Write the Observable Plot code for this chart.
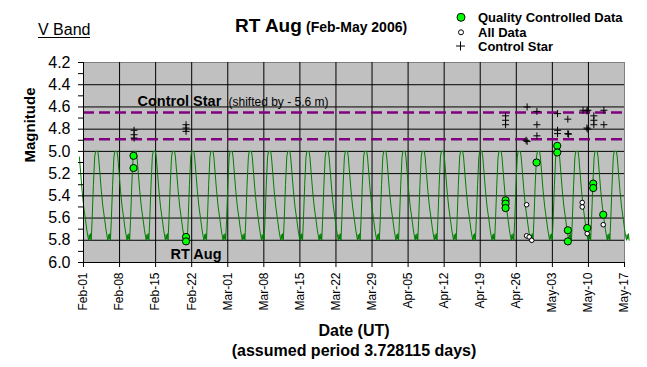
<!DOCTYPE html>
<html><head><meta charset="utf-8">
<script src="https://cdn.jsdelivr.net/npm/d3@7"></script>
<script src="https://cdn.jsdelivr.net/npm/@observablehq/plot@0.6"></script>
<style>
html,body{margin:0;padding:0;background:#fff;}
#wrap{position:relative;width:647px;height:367px;font-family:'Liberation Sans',Arial,sans-serif;}
#wrap > svg, #wrap figure{display:block;margin:0;}
#overlay{position:absolute;left:0;top:0;pointer-events:none;}
</style></head><body><div id="wrap"></div>
<script>
// ---- axis ticks ----
const xTicks = ["2006-02-01","2006-02-08","2006-02-15","2006-02-22","2006-03-01","2006-03-08","2006-03-15","2006-03-22","2006-03-29","2006-04-05","2006-04-12","2006-04-19","2006-04-26","2006-05-03","2006-05-10","2006-05-17"];
const yTicks = [4.2,4.4,4.6,4.8,5.0,5.2,5.4,5.6,5.8,6.0];
const yMinorTicks = [4.3,4.5,4.7,4.9,5.1,5.3,5.5,5.7,5.9];
// control-star band (dashed lines)
const controlBand = [4.65, 4.89];
// ---- model light curve (one cycle, repeated with the stated period) ----
const periodDays = 3.728115;
const curveEpoch = "2006-02-03T08:24Z";
const curveStart = "2006-01-31T02:24Z";
const curveEnd = "2006-05-17T21:36Z";
const cycleDays = [0, 0.42, 0.58, 0.84, 1.10, 1.42, 1.75, 2.00, 2.25, 2.38, 2.50, 2.62, 2.75, 2.88, 3.05, 3.30, 3.55];
const cycleMags = [5.00, 5.00, 5.05, 5.20, 5.35, 5.50, 5.61, 5.70, 5.77, 5.80, 5.75, 5.79, 5.74, 5.80, 5.62, 5.30, 5.05];
// ---- quality controlled data ----
const qcDates = ["2006-02-10T17:00Z","2006-02-10T17:00Z","2006-02-20T21:40Z","2006-02-20T21:40Z","2006-04-23T22:05Z","2006-04-23T22:05Z","2006-04-23T22:05Z","2006-04-29T22:20Z","2006-05-03T22:50Z","2006-05-03T22:50Z","2006-05-06T00:15Z","2006-05-06T00:15Z","2006-05-09T18:30Z","2006-05-10T22:20Z","2006-05-10T22:20Z","2006-05-12T20:55Z"];
const qcMags = [5.04,5.15,5.77,5.81,5.44,5.47,5.51,5.10,4.95,5.01,5.71,5.81,5.69,5.29,5.33,5.57];
// ---- all data ----
const allDates = ["2006-04-28T00:00Z","2006-04-28T00:00Z","2006-04-28T12:00Z","2006-04-29T00:00Z","2006-05-08T19:10Z","2006-05-08T19:10Z","2006-05-09T18:30Z","2006-05-12T20:55Z"];
const allMags = [5.48,5.76,5.77,5.80,5.46,5.50,5.74,5.66];
// ---- control star ----
const ctrlDates = ["2006-02-10T19:40Z","2006-02-10T19:40Z","2006-02-10T19:40Z","2006-02-20T21:40Z","2006-02-20T21:40Z","2006-02-20T21:40Z","2006-04-23T22:05Z","2006-04-23T22:05Z","2006-04-23T22:05Z","2006-04-28T02:25Z","2006-04-28T02:25Z","2006-04-27T21:35Z","2006-04-30T00:00Z","2006-04-30T00:00Z","2006-04-30T00:00Z","2006-05-04T00:00Z","2006-05-04T00:00Z","2006-05-04T00:00Z","2006-05-06T00:00Z","2006-05-06T00:00Z","2006-05-06T03:35Z","2006-05-08T22:50Z","2006-05-09T16:50Z","2006-05-09T16:50Z","2006-05-09T21:35Z","2006-05-09T21:35Z","2006-05-11T01:10Z","2006-05-11T01:10Z","2006-05-11T01:10Z","2006-05-13T00:00Z","2006-05-13T00:00Z"];
const ctrlMags = [4.81,4.85,4.88,4.76,4.79,4.82,4.68,4.72,4.76,4.60,4.91,4.90,4.64,4.76,4.86,4.66,4.81,4.84,4.71,4.84,4.845,4.63,4.635,4.79,4.63,4.80,4.68,4.72,4.76,4.63,4.76];

const DAY = 864e5;
const P = periodDays * DAY;
const e0 = +new Date(curveEpoch), cs = +new Date(curveStart), ce = +new Date(curveEnd);
const curve = [];
for (let k = Math.floor((cs - e0) / P) - 1; e0 + k * P <= ce; k++) {
  cycleDays.forEach((t, i) => {
    const d = e0 + k * P + t * DAY;
    if (d >= cs && d <= ce) curve.push({date: new Date(d), mag: cycleMags[i]});
  });
}
const pts = (ds, ms) => ds.map((d, i) => ({date: new Date(d), mag: ms[i]}));
const qc = pts(qcDates, qcMags), all = pts(allDates, allMags), ctrl = pts(ctrlDates, ctrlMags);
const xT = xTicks.map(d => new Date(d + "T00:00Z"));
const plusSym = {draw(ctx) { const r = 3.5; ctx.moveTo(-r, 0); ctx.lineTo(r, 0); ctx.moveTo(0, -r); ctx.lineTo(0, r); }};
const F = "'Liberation Sans', Arial, sans-serif";

const chart = Plot.plot({
  width: 647, height: 367,
  marginLeft: 83, marginRight: 23, marginTop: 62, marginBottom: 105,
  style: {fontFamily: F, fontSize: "12px", background: "transparent", color: "black", overflow: "visible"},
  x: {type: "utc", domain: [xT[0], xT[xT.length - 1]]},
  y: {domain: [yTicks[yTicks.length - 1], yTicks[0]]},
  marks: [
    Plot.frame({fill: "#c0c0c0", stroke: "#808080"}),
    Plot.ruleY(yTicks.slice(1, -1), {stroke: "black", strokeWidth: 1}),
    Plot.ruleX(xT.slice(1, -1), {stroke: "black", strokeWidth: 1}),
    Plot.ruleY(controlBand, {stroke: "#800080", strokeWidth: 2.5, strokeDasharray: "11,5"}),
    Plot.line(curve, {x: "date", y: "mag", stroke: "#008000", strokeWidth: 1}),
    Plot.text(["Control Star"], {text: d => d, frameAnchor: "top-left", dx: 54, dy: 43, lineAnchor: "bottom", textAnchor: "start", fontWeight: "bold", fontSize: 14.5, fill: "black"}),
    Plot.text(["(shifted by - 5.6 m)"], {text: d => d, frameAnchor: "top-left", dx: 145, dy: 43, lineAnchor: "bottom", textAnchor: "start", fontSize: 12, fill: "black"}),
    Plot.text(["RT Aug"], {text: d => d, frameAnchor: "bottom-left", dx: 87, dy: -3.5, lineAnchor: "bottom", textAnchor: "start", fontWeight: "bold", fontSize: 14.5, fill: "black"}),
    Plot.dot(all, {x: "date", y: "mag", r: 2.3, fill: "white", stroke: "black", strokeWidth: 1}),
    Plot.dot(qc, {x: "date", y: "mag", r: 3.6, fill: "#00ff00", stroke: "black", strokeWidth: 1}),
    Plot.dot(ctrl, {x: "date", y: "mag", symbol: plusSym, fill: "none", stroke: "black", strokeWidth: 1}),
    Plot.ruleX([xT[0]], {stroke: "black"}),
    Plot.ruleY([yTicks[yTicks.length - 1]], {stroke: "black"}),
    Plot.axisY({ticks: yTicks, tickFormat: d3.format(".1f"), tickSize: 5, tickPadding: 8, fontSize: 16, label: null}),
    Plot.axisY({ticks: yMinorTicks, tickFormat: () => "", tickSize: 5, label: null}),
    Plot.axisX({ticks: xT, tickFormat: d3.utcFormat("%b-%d"), tickRotate: -90, tickSize: 5, tickPadding: 5, fontSize: 12, label: null}),
    Plot.text(["Magnitude"], {text: d => d, frameAnchor: "left", dx: -53, rotate: -90, fontWeight: "bold", fontSize: 15, fill: "black"}),
    Plot.text(["Date (UT)"], {text: d => d, frameAnchor: "bottom", dy: 73, lineAnchor: "bottom", fontWeight: "bold", fontSize: 16, fill: "black"}),
    Plot.text(["(assumed period 3.728115 days)"], {text: d => d, frameAnchor: "bottom", dy: 93, lineAnchor: "bottom", fontWeight: "bold", fontSize: 16, fill: "black"})
  ]
});
const wrap = document.getElementById("wrap");
wrap.appendChild(chart);

const ns = "http://www.w3.org/2000/svg";
const ov = document.createElementNS(ns, "svg");
ov.setAttribute("id", "overlay");
ov.setAttribute("width", 647); ov.setAttribute("height", 367);
ov.setAttribute("font-family", F);
ov.innerHTML = `
  <text x="38" y="34.5" font-size="16" fill="black">V Band</text>
  <line x1="38" x2="90" y1="37.5" y2="37.5" stroke="black" stroke-width="1"/>
  <text x="235" y="32" font-size="19" font-weight="bold" fill="black">RT Aug</text>
  <text x="306" y="32" font-size="14" font-weight="bold" fill="black">(Feb-May 2006)</text>
  <circle cx="461" cy="17.3" r="4" fill="#00ff00" stroke="black" stroke-width="1"/>
  <text x="478" y="21.5" font-size="13" font-weight="bold" fill="black">Quality Controlled Data</text>
  <circle cx="461" cy="32.3" r="2.5" fill="white" stroke="black" stroke-width="1"/>
  <text x="478" y="37" font-size="13" font-weight="bold" fill="black">All Data</text>
  <path d="M456 46H465M460.5 41.5V50.5" stroke="black" stroke-width="1" fill="none"/>
  <text x="478" y="51" font-size="13" font-weight="bold" fill="black">Control Star</text>`;
wrap.appendChild(ov);
</script></body></html>
